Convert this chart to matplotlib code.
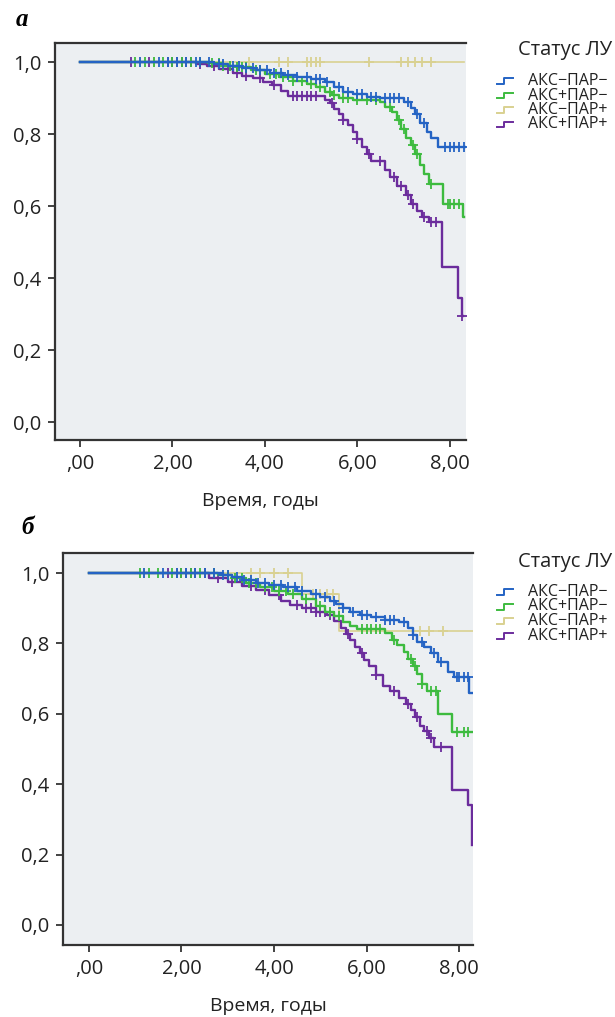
import numpy as np
import matplotlib
matplotlib.use("Agg")
import matplotlib.pyplot as plt
from matplotlib.lines import Line2D

plt.rcParams['font.family'] = ['Open Sans', 'DejaVu Sans']

labels = ["АКС−ПАР−", "АКС+ПАР−", "АКС−ПАР+", "АКС+ПАР+"]
colors = ["#2463c4", "#3dbb3f", "#d9d191", "#6b2c9c"]
xticks = [0, 2, 4, 6, 8]
xticklabels = [",00", "2,00", "4,00", "6,00", "8,00"]
yticks = [0.0, 0.2, 0.4, 0.6, 0.8, 1.0]
yticklabels = ["0,0", "0,2", "0,4", "0,6", "0,8", "1,0"]

# ---- панель а: времена событий и выживаемость после события
a_blue_t = [0, 2.9, 3.2, 3.5, 3.8, 4.1, 4.4, 4.7, 5.0, 5.3, 5.5, 5.7, 5.9, 6.2, 6.5, 7.0, 7.15, 7.25, 7.35, 7.5, 7.6, 7.75]
a_blue_s = [1.0, 0.995, 0.99, 0.983, 0.977, 0.97, 0.965, 0.958, 0.952, 0.945, 0.93, 0.918, 0.91, 0.903, 0.9, 0.89, 0.873, 0.855, 0.83, 0.805, 0.79, 0.765]
a_blue_end = 8.32
a_blue_c = [1.3, 1.7, 1.9, 2.1, 2.3, 2.5, 2.6, 2.8, 3.0, 3.1, 3.3, 3.45, 3.6, 3.75, 3.9, 4.05, 4.2, 4.35, 4.5,
            4.7, 4.9, 5.1, 5.2, 5.35, 5.6, 5.8, 6.0, 6.1, 6.3, 6.4, 6.6, 6.7, 6.8, 6.9, 7.1, 7.3, 7.45,
            7.9, 8.0, 8.1, 8.2, 8.3]

a_green_t = [0, 2.8, 3.1, 3.4, 3.7, 4.0, 4.3, 4.6, 4.9, 5.1, 5.3, 5.45, 5.6, 5.9, 6.5, 6.6, 6.75, 6.85, 6.95,
             7.05, 7.15, 7.25, 7.35, 7.45, 7.55, 7.85, 8.28]
a_green_s = [1.0, 0.997, 0.99, 0.985, 0.977, 0.968, 0.958, 0.948, 0.94, 0.93, 0.918, 0.908, 0.9, 0.895, 0.89,
             0.875, 0.86, 0.84, 0.815, 0.79, 0.77, 0.745, 0.715, 0.69, 0.66, 0.605, 0.57]
a_green_end = 8.3
a_green_c = [1.2, 1.4, 1.6, 1.8, 2.0, 2.2, 2.4, 2.6, 2.85, 3.0, 3.1, 3.25, 3.4, 3.5, 3.6, 3.8, 3.9, 4.1, 4.25,
             4.4, 4.6, 4.8, 5.0, 5.2, 5.4, 5.5, 5.7, 5.8, 6.0, 6.2, 6.4, 6.7, 6.9, 7.0, 7.2, 7.3, 7.6,
             7.95, 8.0, 8.1, 8.2]

a_yellow_t = [0]
a_yellow_s = [1.0]
a_yellow_end = 8.3
a_yellow_c = [1.3, 1.6, 3.65, 4.3, 4.5, 4.9, 5.0, 5.1, 5.2, 6.25, 6.95, 7.1, 7.25, 7.4, 7.6]

a_purple_t = [0, 2.5, 2.75, 3.0, 3.3, 3.5, 3.75, 3.95, 4.15, 4.35, 4.5, 5.3, 5.4, 5.5, 5.6, 5.7, 5.8, 5.9,
              6.0, 6.1, 6.2, 6.3, 6.6, 6.7, 6.85, 7.05, 7.15, 7.3, 7.4, 7.55, 7.83, 8.17, 8.26]
a_purple_s = [1.0, 0.995, 0.988, 0.98, 0.97, 0.962, 0.955, 0.945, 0.935, 0.92, 0.905, 0.895, 0.885, 0.87,
              0.855, 0.84, 0.825, 0.805, 0.785, 0.765, 0.745, 0.725, 0.7, 0.68, 0.655, 0.63, 0.605, 0.585,
              0.57, 0.555, 0.43, 0.345, 0.295]
a_purple_end = 8.28
a_purple_c = [1.1, 1.5, 1.9, 2.0, 2.1, 2.2, 2.3, 2.4, 2.6, 2.9, 3.2, 3.4, 3.6, 3.9, 4.2, 4.6, 4.7, 4.8, 4.9,
              5.0, 5.1, 5.45, 5.7, 6.0, 6.25, 6.5, 6.8, 6.95, 7.1, 7.2, 7.45, 7.6, 7.7, 8.27]

# ---- панель б
b_blue_t = [0, 2.9, 3.1, 3.3, 3.6, 3.9, 4.2, 4.5, 4.8, 5.0, 5.2, 5.35, 5.5, 5.65, 5.85, 6.1, 6.4, 6.7, 6.9,
            7.0, 7.1, 7.25, 7.4, 7.55, 7.75, 7.9, 8.22]
b_blue_s = [1.0, 0.995, 0.99, 0.98, 0.972, 0.966, 0.96, 0.95, 0.94, 0.932, 0.922, 0.912, 0.9, 0.89, 0.88,
            0.875, 0.868, 0.86, 0.845, 0.825, 0.805, 0.79, 0.772, 0.748, 0.72, 0.705, 0.66]
b_blue_end = 8.27
b_blue_c = [1.2, 1.6, 1.9, 2.1, 2.3, 2.5, 2.7, 2.9, 3.0, 3.2, 3.35, 3.5, 3.65, 3.8, 4.0, 4.15, 4.3, 4.45, 4.6,
            4.9, 5.1, 5.3, 5.5, 5.7, 5.9, 6.0, 6.2, 6.4, 6.5, 6.6, 6.8, 7.0, 7.2, 7.45, 7.6, 7.95, 8.0,
            8.1, 8.2]

b_green_t = [0, 2.8, 3.1, 3.4, 3.7, 4.0, 4.3, 4.6, 4.9, 5.1, 5.3, 5.5, 5.65, 5.8, 6.4, 6.55, 6.65, 6.8, 6.9,
             7.0, 7.1, 7.2, 7.3, 7.55, 7.85]
b_green_s = [1.0, 0.995, 0.985, 0.972, 0.96, 0.95, 0.94, 0.925, 0.905, 0.89, 0.878, 0.862, 0.85, 0.84, 0.83,
             0.81, 0.795, 0.775, 0.755, 0.735, 0.712, 0.685, 0.665, 0.6, 0.548]
b_green_end = 8.27
b_green_c = [1.1, 1.3, 1.5, 1.8, 2.0, 2.2, 2.4, 2.7, 3.0, 3.15, 3.3, 3.45, 3.6, 3.8, 3.95, 4.1, 4.25, 4.4,
             4.7, 5.0, 5.2, 5.4, 5.9, 6.0, 6.1, 6.2, 6.3, 6.6, 6.95, 7.05, 7.2, 7.4, 7.5, 7.95, 8.1, 8.2]

b_yellow_t = [0, 4.6, 5.4]
b_yellow_s = [1.0, 0.94, 0.835]
b_yellow_end = 8.3
b_yellow_c = [1.2, 3.5, 3.7, 4.0, 4.3, 4.85, 5.0, 5.15, 5.28, 7.15, 7.35, 7.65]

b_purple_t = [0, 2.6, 3.0, 3.3, 3.6, 3.9, 4.15, 4.35, 4.6, 4.9, 5.15, 5.3, 5.45, 5.55, 5.65, 5.75, 5.85, 5.95,
              6.05, 6.2, 6.35, 6.5, 6.7, 6.85, 6.95, 7.05, 7.15, 7.25, 7.35, 7.45, 7.85, 8.2, 8.27]
b_purple_s = [1.0, 0.985, 0.975, 0.962, 0.952, 0.937, 0.922, 0.908, 0.9, 0.89, 0.88, 0.865, 0.845, 0.828,
              0.81, 0.79, 0.772, 0.752, 0.735, 0.71, 0.68, 0.665, 0.645, 0.628, 0.61, 0.59, 0.565, 0.552,
              0.53, 0.505, 0.383, 0.34, 0.227]
b_purple_end = 8.28
b_purple_c = [1.7, 1.9, 2.0, 2.1, 2.2, 2.3, 2.5, 2.8, 3.1, 3.5, 3.8, 4.1, 4.5, 4.7, 4.8, 4.9, 5.0, 5.1, 5.2,
              5.6, 5.9, 6.2, 6.6, 6.9, 7.1, 7.3, 7.4, 7.6]

panel_a = [(a_blue_t, a_blue_s, a_blue_end, a_blue_c),
           (a_green_t, a_green_s, a_green_end, a_green_c),
           (a_yellow_t, a_yellow_s, a_yellow_end, a_yellow_c),
           (a_purple_t, a_purple_s, a_purple_end, a_purple_c)]
panel_b = [(b_blue_t, b_blue_s, b_blue_end, b_blue_c),
           (b_green_t, b_green_s, b_green_end, b_green_c),
           (b_yellow_t, b_yellow_s, b_yellow_end, b_yellow_c),
           (b_purple_t, b_purple_s, b_purple_end, b_purple_c)]

W, H = 615, 1017
fig = plt.figure(figsize=(W/100, H/100), dpi=100)
fig.patch.set_facecolor("white")

def km(ax, curves):
    order = [2, 3, 1, 0]   # жёлтая снизу, синяя сверху
    for i in order:
        t, s, end, cens = curves[i]
        t = np.array(t); s = np.array(s)
        lw = 1.2 if i == 2 else 1.7
        ax.step(np.append(t, end), np.append(s, s[-1]), where="post", color=colors[i], lw=lw)
        c = np.array(cens)
        cy = s[np.searchsorted(t, c, side="right") - 1]
        ax.plot(c, cy, ls="none", marker="+", ms=7, mew=1.3, color=colors[i])

def style(ax, xlim, ylim):
    ax.set_facecolor("#eceff2")
    ax.set_xlim(*xlim); ax.set_ylim(*ylim)
    ax.set_xticks(xticks); ax.set_xticklabels(xticklabels)
    ax.set_yticks(yticks); ax.set_yticklabels(yticklabels)
    ax.tick_params(labelsize=14.5, length=5, width=1.2, colors="#222222", pad=5)
    ax.spines["right"].set_visible(False)
    for sp in ["left", "bottom", "top"]:
        ax.spines[sp].set_linewidth(1.6)
        ax.spines[sp].set_color("#333333")
    ax.set_xlabel("Время, годы", fontsize=14, color="#222222", labelpad=13)

def legend(y_title, y_first):
    fig.text(612/W, 1 - y_title/H, "Статус ЛУ", ha="right", va="center", fontsize=14.5, color="#222222")
    for k, lab in enumerate(labels):
        yc = y_first + 14.5*k
        xs = np.array([497, 504, 504, 513]) / W
        ys = 1 - np.array([yc + 3, yc + 3, yc - 3, yc - 3]) / H
        fig.add_artist(Line2D(xs, ys, color=colors[k], lw=1.4, transform=fig.transFigure))
        fig.text(528/W, 1 - yc/H, lab, ha="left", va="center", fontsize=11.5, color="#222222")

ax1 = fig.add_axes([55/W, 1 - 440/H, 411/W, 397/H])
km(ax1, panel_a)
style(ax1, (-0.54, 8.35), (-0.05, 1.053))
legend(50, 81)

ax2 = fig.add_axes([63/W, 1 - 945/H, 410/W, 392/H])
km(ax2, panel_b)
style(ax2, (-0.56, 8.30), (-0.057, 1.057))
legend(562, 592)

fig.text(22/W, 1 - 20/H, "а", fontsize=18, family="Liberation Serif", weight="bold", style="italic",
         ha="center", va="center")
fig.text(28/W, 1 - 528/H, "б", fontsize=18, family="Liberation Serif", weight="bold", style="italic",
         ha="center", va="center")

fig.savefig("out.png", dpi=100)
